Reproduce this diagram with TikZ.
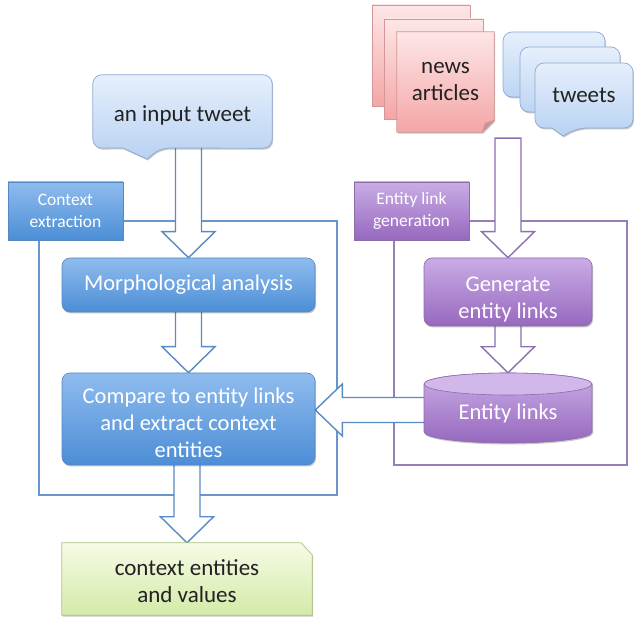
\documentclass[tikz,border=0pt]{standalone}
\usepackage{fontspec}
\setmainfont{Carlito}
\usetikzlibrary{calc,shadows}

\pgfdeclarelayer{canvas}
\pgfdeclarelayer{back}
\pgfdeclarelayer{mid}
\pgfdeclarelayer{shapes}
\pgfsetlayers{canvas,back,mid,shapes,main}

% palette
\definecolor{procTop}{RGB}{143,188,238}
\definecolor{procBot}{RGB}{76,142,214}
\definecolor{procLine}{RGB}{86,136,196}
\definecolor{bubTop}{RGB}{230,239,252}
\definecolor{bubBot}{RGB}{184,210,242}
\definecolor{bubLine}{RGB}{140,170,212}
\definecolor{purTop}{RGB}{202,172,230}
\definecolor{purBot}{RGB}{150,104,190}
\definecolor{purLine}{RGB}{140,108,172}
\definecolor{grnTop}{RGB}{246,251,230}
\definecolor{grnBot}{RGB}{212,234,168}
\definecolor{grnLine}{RGB}{170,196,128}
\definecolor{pnkTop}{RGB}{253,230,230}
\definecolor{pnkBot}{RGB}{244,166,166}
\definecolor{pnkLine}{RGB}{212,150,150}
\definecolor{frameBlue}{RGB}{104,150,204}
\definecolor{framePur}{RGB}{150,126,182}
\definecolor{arrBlue}{RGB}{88,138,198}
\definecolor{arrPur}{RGB}{140,112,176}
\definecolor{inkDark}{RGB}{34,34,34}

% a tall invisible strut on a first line pushes a centred text block downwards
\newcommand\dropstrut[1]{\rule{0pt}{#1}}

\tikzset{
  x=1pt, y=1pt,
  bodyfont/.style={font=\fontsize{22.5}{27}\selectfont},
  bigfont/.style={font=\fontsize{23}{27}\selectfont},
  tagfont/.style={font=\fontsize{17.5}{22}\selectfont},
  softshadow/.style={drop shadow={shadow xshift=1pt,shadow yshift=-1.5pt,opacity=0.22,fill=black}},
  process/.style={rectangle, rounded corners=8pt, top color=procTop, bottom color=procBot,
    draw=procLine, line width=0.6pt, text=white, align=center, inner sep=0pt, bodyfont, softshadow},
  purprocess/.style={process, top color=purTop, bottom color=purBot, draw=purLine},
  tagbox/.style={rectangle, top color=procTop, bottom color=procBot, draw=procLine,
    line width=0.6pt, text=white, align=center, inner sep=0pt, tagfont,
    minimum width=115, minimum height=58, softshadow},
  purtag/.style={tagbox, top color=purTop, bottom color=purBot, draw=purLine},
  plaintext/.style={inner sep=0pt, align=center, text=inkDark, bigfont},
  holder/.style={inner sep=0pt},
  bubble/.style={top color=bubTop, bottom color=bubBot, draw=bubLine, line width=0.7pt, softshadow},
  sheet/.style={top color=pnkTop, bottom color=pnkBot, draw=pnkLine, line width=0.7pt, softshadow},
  resultshape/.style={top color=grnTop, bottom color=grnBot, draw=grnLine, line width=0.7pt, softshadow},
  cylbody/.style={top color=purTop, bottom color=purBot, draw=purLine, line width=0.6pt, softshadow},
  cyltop/.style={fill=purTop!85!white, draw=purLine, line width=0.6pt},
  frameblue/.style={draw=frameBlue, line width=1.1pt},
  framepur/.style={draw=framePur, line width=1.1pt},
  blockblue/.style={draw=arrBlue, fill=white, line width=1.4pt, line join=miter},
  blockpur/.style={draw=arrPur, fill=white, line width=1.4pt, line join=miter},
}

% hollow block arrow pointing down: style, source, target, overlap into source
\newcommand\blockdown[4]{%
  \draw[#1] let \p1=(#2), \p2=(#3) in
    (\x2-13pt,\y1+#4) -- (\x2-13pt,\y2+26pt) -- (\x2-26.5pt,\y2+26pt) -- (\x2,\y2)
    -- (\x2+26.5pt,\y2+26pt) -- (\x2+13pt,\y2+26pt) -- (\x2+13pt,\y1+#4) -- cycle;}
% hollow block arrow pointing left: style, source, target
\newcommand\blockleft[3]{%
  \draw[#1] let \p1=(#2), \p2=(#3) in
    (\x1+3pt,\y1-12.5pt) -- (\x2+27pt,\y1-12.5pt) -- (\x2+27pt,\y1-26pt) -- (\x2,\y1)
    -- (\x2+27pt,\y1+26pt) -- (\x2+27pt,\y1+12.5pt) -- (\x1+3pt,\y1+12.5pt) -- cycle;}
% speech bubble: left, bottom, right, top, pointer base x1, x2, tip x, tip y
\newcommand\speechbubble[8]{%
  \path[bubble] (#5,#2) [rounded corners=9pt] -- (#1,#2) -- (#1,#4) -- (#3,#4) -- (#3,#2)
    -- (#6,#2) [sharp corners] -- (#7,#8) -- cycle;}

\begin{document}
\begin{tikzpicture}
\useasboundingbox (0,0) rectangle (634,618);
\begin{pgfonlayer}{canvas}
  \fill[white] (0,0) rectangle (634,618);
\end{pgfonlayer}

% ---------- text-bearing nodes ----------
\node[plaintext, minimum width=179, minimum height=73] (tweet) at (182.5,506.5)
  {\dropstrut{23pt}an input tweet};
\node[tagbox] (ctxtag) at (65.5,407) {Context\\extraction};
\node[process, minimum width=253, minimum height=54] (morph) at (188.5,333) {Morphological analysis};
\node[process, minimum width=253, minimum height=92] (compare) at (188.5,199)
  {\dropstrut{23pt}Compare to entity links\\and extract context\\entities};
\node[holder, minimum width=250, minimum height=72] (result) at (187,39) {};
\node[plaintext] (resulttext) at (187,37) {context entities\\and values};

\node[plaintext, minimum width=97, minimum height=100] (news) at (445.5,536) {news\\articles};
\node[plaintext, minimum width=98, minimum height=65] (tweets) at (584,522.5) {tweets};
\node[purtag] (gentag) at (411.5,407) {Entity link\\generation};
\node[purprocess, minimum width=168, minimum height=68] (generate) at (508,326)
  {\dropstrut{29pt}Generate\\entity links};
\node[holder, minimum width=168, minimum height=74] (cyl) at (508,208) {};
\node[plaintext, bodyfont, text=white] (cyltext) at (508,204) {Entity links};

% ---------- drawn shapes behind the texts ----------
\begin{pgfonlayer}{shapes}
  % input tweet callout
  \path[bubble] (110,470) [rounded corners=9pt] -- (tweet.south west) -- (tweet.north west)
    -- (tweet.north east) -- (tweet.south east) -- (160,470) [sharp corners] -- (147,459)
    -- (123,470) -- cycle;
  % stack of news sheets
  \path[sheet] (372,512) rectangle (470,613);
  \path[sheet] (384,499) rectangle (483,599);
  \path[sheet] (news.south west) -- (news.north west) -- (news.north east)
    -- ($(news.south east)+(0,12)$) -- ($(news.south east)+(-12,0)$) -- cycle;
  \fill[pnkBot!80!black!90, draw=pnkLine, line width=0.5pt]
    ($(news.south east)+(0,12)$) -- ($(news.south east)+(-12,0)$) -- ($(news.south east)+(-9,9)$) -- cycle;
  % stack of tweet bubbles
  \speechbubble{503}{521}{605}{586}{520}{545}{531}{513}
  \speechbubble{520}{506}{620}{571}{537}{562}{548}{498}
  \speechbubble{535}{490}{633}{555}{552}{577}{563}{482}
  % result box with a snipped corner
  \path[resultshape] (result.south west) -- (result.north west) -- ($(result.north east)+(-11,0)$)
    -- ($(result.north east)+(0,-12)$) -- (result.south east) -- cycle;
  % entity link store
  \path[cylbody] (424,234) -- (424,186) arc[start angle=180,end angle=360,x radius=84,y radius=11]
    -- (592,234) arc[start angle=0,end angle=180,x radius=84,y radius=11] -- cycle;
  \path[cyltop] (508,234) ellipse[x radius=84,y radius=11];
\end{pgfonlayer}

% ---------- group frames ----------
\begin{pgfonlayer}{back}
  \draw[frameblue] (39,123) rectangle (337,397);
  \draw[framepur] (394,153) rectangle (627,397);
\end{pgfonlayer}

% ---------- hollow block arrows ----------
\begin{pgfonlayer}{mid}
  \blockdown{blockblue}{tweet.south}{morph.north}{3pt}
  \blockdown{blockblue}{morph.south}{compare.north}{3pt}
  \blockdown{blockblue}{compare.south}{result.north}{3pt}
  \blockdown{blockpur}{news.south}{generate.north}{-6pt}
  \blockdown{blockpur}{generate.south}{cyl.north}{3pt}
  \blockleft{blockblue}{cyl.west}{compare.east}
\end{pgfonlayer}
\end{tikzpicture}
\end{document}
